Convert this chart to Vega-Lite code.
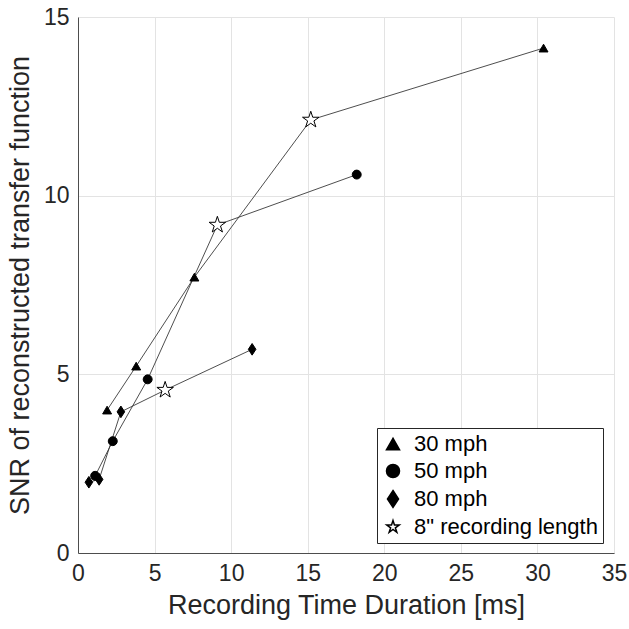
{
  "$schema": "https://vega.github.io/schema/vega-lite/v6.json",
  "width": 536,
  "height": 536,
  "autosize": {"type": "none"},
  "padding": {"left": 78, "top": 17, "right": 15, "bottom": 76},
  "background": "white",
  "config": {
    "font": "Liberation Sans",
    "view": {"stroke": null},
    "axis": {
      "grid": true,
      "gridColor": "#e3e3e3",
      "gridWidth": 1,
      "domainColor": "#4d4d4d",
      "domainWidth": 1,
      "ticks": false,
      "labelFlush": false,
      "labelFontSize": 23,
      "labelColor": "#262626",
      "titleFontSize": 27,
      "titleFontWeight": "normal",
      "titleColor": "#262626",
      "labelFont": "Liberation Sans",
      "titleFont": "Liberation Sans"
    }
  },
  "data": {
    "values": [
      {"speed": "30 mph", "marker": "30 mph", "t": 30.4, "snr": 14.13},
      {"speed": "30 mph", "marker": "8\" recording length", "t": 15.2, "snr": 12.12},
      {"speed": "30 mph", "marker": "30 mph", "t": 7.6, "snr": 7.72},
      {"speed": "30 mph", "marker": "30 mph", "t": 3.8, "snr": 5.23},
      {"speed": "30 mph", "marker": "30 mph", "t": 1.9, "snr": 4.0},
      {"speed": "50 mph", "marker": "50 mph", "t": 18.2, "snr": 10.59},
      {"speed": "50 mph", "marker": "8\" recording length", "t": 9.1, "snr": 9.18},
      {"speed": "50 mph", "marker": "50 mph", "t": 4.55, "snr": 4.86},
      {"speed": "50 mph", "marker": "50 mph", "t": 2.27, "snr": 3.13},
      {"speed": "50 mph", "marker": "50 mph", "t": 1.12, "snr": 2.16},
      {"speed": "80 mph", "marker": "80 mph", "t": 11.37, "snr": 5.7},
      {"speed": "80 mph", "marker": "8\" recording length", "t": 5.69, "snr": 4.56},
      {"speed": "80 mph", "marker": "80 mph", "t": 2.8, "snr": 3.95},
      {"speed": "80 mph", "marker": "80 mph", "t": 1.38, "snr": 2.06},
      {"speed": "80 mph", "marker": "80 mph", "t": 0.71, "snr": 1.98}
    ]
  },
  "encoding": {
    "x": {
      "field": "t", "type": "quantitative",
      "scale": {"domain": [0, 35], "nice": false, "zero": true},
      "axis": {"values": [0, 5, 10, 15, 20, 25, 30, 35], "title": "Recording Time Duration [ms]", "labelPadding": 9, "titlePadding": 7}
    },
    "y": {
      "field": "snr", "type": "quantitative",
      "scale": {"domain": [0, 15], "nice": false},
      "axis": {"values": [0, 5, 10, 15], "title": "SNR of reconstructed transfer function", "labelPadding": 9, "titlePadding": 9}
    }
  },
  "layer": [
    {
      "mark": {"type": "line", "color": "#3a3a3a", "strokeWidth": 0.9},
      "encoding": {
        "detail": {"field": "speed"},
        "order": {"field": "t", "type": "quantitative"}
      }
    },
    {
      "transform": [{"filter": "datum.marker != '8\" recording length'"}],
      "mark": {"type": "point", "filled": true, "stroke": "black", "strokeWidth": 1, "opacity": 1, "size": 80},
      "encoding": {
        "shape": {
          "field": "marker", "type": "nominal",
          "scale": {
            "domain": ["30 mph", "50 mph", "80 mph", "8\" recording length"],
            "range": ["triangle-up", "circle", "M0,-1.3L0.85,0L0,1.3L-0.85,0Z", "M0,-1L0.2245,-0.309L0.9511,-0.309L0.3633,0.118L0.5878,0.809L0,0.382L-0.5878,0.809L-0.3633,0.118L-0.9511,-0.309L-0.2245,-0.309Z"]
          },
          "legend": {
            "title": null,
            "orient": "none",
            "legendX": 299,
            "legendY": 411,
            "direction": "vertical",
            "strokeColor": "#262626",
            "fillColor": "white",
            "padding": 5,
            "labelFontSize": 22,
            "labelColor": "black",
            "labelFont": "Liberation Sans",
            "labelLimit": 0,
            "symbolSize": 170,
            "rowPadding": 5,
            "labelOffset": 10,
            "offset": 0,
            "encode": {
              "symbols": {
                "update": {
                  "stroke": {"value": "black"},
                  "strokeWidth": {"value": 1},
                  "opacity": {"value": 1}
                }
              }
            }
          }
        },
        "fill": {
          "field": "marker", "type": "nominal",
          "scale": {
            "domain": ["30 mph", "50 mph", "80 mph", "8\" recording length"],
            "range": ["black", "black", "black", "white"]
          },
          "legend": null
        }
      }
    },
    {
      "transform": [{"filter": "datum.marker == '8\" recording length'"}],
      "mark": {"type": "point", "filled": true, "stroke": "black", "strokeWidth": 1, "opacity": 1, "size": 300},
      "encoding": {
        "shape": {"field": "marker", "type": "nominal"},
        "fill": {"field": "marker", "type": "nominal"}
      }
    }
  ]
}
